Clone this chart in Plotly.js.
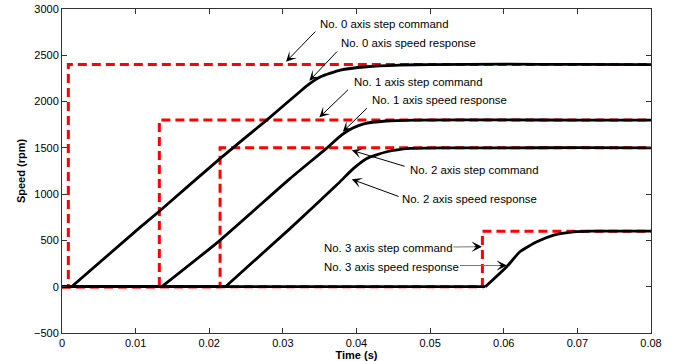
<!DOCTYPE html>
<html>
<head>
<meta charset="utf-8">
<script src="https://cdn.plot.ly/plotly-3.0.1.min.js"></script>
<style>html,body{margin:0;padding:0;background:#fff;}#chart{width:676px;height:361px;}</style>
</head>
<body>
<div id="chart"></div>
<script>
// Step commands: step time (s) and commanded speed (rpm) for axes 0..3
const axisNames = ["No. 0", "No. 1", "No. 2", "No. 3"];
const cmdTime = [0.00086, 0.01322, 0.02147, 0.0571];
const cmdValue = [2400, 1800, 1500, 600];
const endTime = 0.08;

// Speed responses (first two points = flat zero before start)
const resp0T = [0, 0.0013, 0.0106, 0.0133, 0.0215, 0.0278, 0.0323, 0.0336, 0.0352, 0.0378, 0.0414, 0.0459, 0.0500, 0.0600, 0.0700, 0.0800];
const resp0V = [0, 0, 641, 821, 1387, 1800, 2106, 2190, 2270, 2340, 2376, 2394, 2400, 2404, 2401, 2400];
const resp1T = [0, 0.01355, 0.0215, 0.0310, 0.0360, 0.0380, 0.0395, 0.0410, 0.0440, 0.0480, 0.0600, 0.0700, 0.0800];
const resp1V = [0, 0, 504, 1170, 1500, 1640, 1715, 1760, 1790, 1800, 1802, 1800, 1800];
const resp2T = [0, 0.0222, 0.0310, 0.0373, 0.0396, 0.0414, 0.0441, 0.0473, 0.0520, 0.0600, 0.0700, 0.0800];
const resp2V = [0, 0, 630, 1098, 1278, 1386, 1458, 1494, 1500, 1500, 1502, 1500];
const resp3T = [0, 0.0575, 0.0604, 0.0622, 0.0645, 0.0668, 0.0695, 0.0720, 0.0800];
const resp3V = [0, 0, 216, 378, 486, 558, 592, 600, 600];

const respT = [resp0T, resp1T, resp2T, resp3T];
const respV = [resp0V, resp1V, resp2V, resp3V];

// Tick labels
const xTicks = [0, 0.01, 0.02, 0.03, 0.04, 0.05, 0.06, 0.07, 0.08];
const xTickText = ["0", "0.01", "0.02", "0.03", "0.04", "0.05", "0.06", "0.07", "0.08"];
const yTicks = [-500, 0, 500, 1000, 1500, 2000, 2500, 3000];
const yTickText = ["\u2212500", "0", "500", "1000", "1500", "2000", "2500", "3000"];

const traces = [];
for (let i = 0; i < 4; i++) {
  traces.push({
    x: [0, cmdTime[i], cmdTime[i], endTime],
    y: [0, 0, cmdValue[i], cmdValue[i]],
    mode: "lines",
    line: {color: "#ff0000", width: 3, dash: "9px,5px"},
    showlegend: false, hoverinfo: "skip"
  });
}
for (let i = 0; i < 4; i++) {
  // flat part before the response starts
  traces.push({
    x: respT[i].slice(0, 2), y: respV[i].slice(0, 2),
    mode: "lines",
    line: {color: "#000000", width: 2.8},
    showlegend: false, hoverinfo: "skip"
  });
  // rising part and plateau
  traces.push({
    x: respT[i].slice(1), y: respV[i].slice(1),
    mode: "lines",
    line: {color: "#000000", width: 2.8, shape: "spline", smoothing: 0.5},
    showlegend: false, hoverinfo: "skip"
  });
}

const FONT = "'Liberation Sans', Arial, Helvetica, sans-serif";

// label text (left x, center y), arrow tail, arrow tip - all in data coords
const notes = [
  {text: "No. 0 axis step command",    tx: 0.03478, ty: 2837, ax: 0.0346,  ay: 2772, x: 0.03043, y: 2430, grey: false},
  {text: "No. 0 axis speed response",  tx: 0.03768, ty: 2629, ax: 0.03754, ay: 2556, x: 0.0336,  y: 2225, grey: false},
  {text: "No. 1 axis step command",    tx: 0.03936, ty: 2214, ax: 0.03904, ay: 2142, x: 0.03496, y: 1830, grey: false},
  {text: "No. 1 axis speed response",  tx: 0.04185, ty: 2016, ax: 0.04162, ay: 1944, x: 0.03814, y: 1674, grey: false},
  {text: "No. 2 axis step command",    tx: 0.04705, ty: 1260, ax: 0.04674, ay: 1296, x: 0.03936, y: 1473, grey: false},
  {text: "No. 2 axis speed response",  tx: 0.04592, ty: 947,  ax: 0.04592, ay: 969,  x: 0.03936, y: 1160, grey: false},
  {text: "No. 3 axis step command",    tx: 0.03528, ty: 415,  ax: 0.05295, ay: 429,  x: 0.05702, y: 432,  grey: true},
  {text: "No. 3 axis speed response",  tx: 0.03528, ty: 216,  ax: 0.05385, ay: 229,  x: 0.06042, y: 229,  grey: true}
];
const annotations = [];
notes.forEach(n => {
  annotations.push({
    x: n.tx, y: n.ty, xref: "x", yref: "y", text: n.text, showarrow: false,
    xanchor: "left", yanchor: "middle", font: {family: FONT, size: 11.4, color: "#000"}
  });
  annotations.push({
    x: n.x, y: n.y, xref: "x", yref: "y", axref: "x", ayref: "y", ax: n.ax, ay: n.ay,
    text: "", showarrow: true, arrowhead: 3, arrowsize: 1.7, arrowwidth: 1,
    arrowcolor: n.grey ? "#777" : "#000"
  });
  if (n.grey) {
    // dark head over the grey leader line
    annotations.push({
      x: n.x, y: n.y, xref: "x", yref: "y", axref: "x", ayref: "y",
      ax: n.x - 0.0012, ay: n.y, text: "", showarrow: true,
      arrowhead: 3, arrowsize: 1.7, arrowwidth: 1, arrowcolor: "#000"
    });
  }
});

const layout = {
  width: 676, height: 361,
  margin: {l: 62, r: 25, t: 9, b: 28, pad: 0},
  paper_bgcolor: "#fff", plot_bgcolor: "#fff",
  font: {family: FONT, size: 11, color: "#000"},
  showlegend: false,
  xaxis: {
    range: [0, 0.08], tickvals: xTicks, ticktext: xTickText,
    ticks: "inside", ticklen: 5, tickcolor: "#333", mirror: "ticks",
    showline: true, linecolor: "#333", linewidth: 1,
    showgrid: false, zeroline: false,
    tickfont: {family: FONT, size: 11, color: "#000"},
    title: {text: "<b>Time (s)</b>", font: {family: FONT, size: 11, color: "#000"}, standoff: 2}
  },
  yaxis: {
    range: [-500, 3000], tickvals: yTicks, ticktext: yTickText,
    ticks: "inside", ticklen: 5, tickcolor: "#333", mirror: "ticks",
    showline: true, linecolor: "#333", linewidth: 1,
    showgrid: false, zeroline: false,
    tickfont: {family: FONT, size: 11, color: "#000"},
    title: {text: "<b>Speed (rpm)</b>", font: {family: FONT, size: 11, color: "#000"}, standoff: 6}
  },
  annotations: annotations
};

Plotly.newPlot("chart", traces, layout, {staticPlot: true, displayModeBar: false});
</script>
</body>
</html>
